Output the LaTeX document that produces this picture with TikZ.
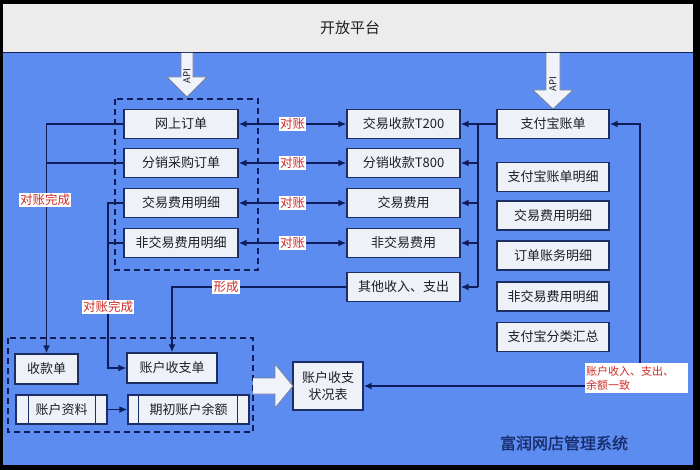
\documentclass[tikz,border=0pt]{standalone}
\usepackage{fontspec}
\setmainfont{Noto Sans CJK SC}[AutoFakeBold=1.5]
\usetikzlibrary{arrows.meta}
\definecolor{bluebg}{RGB}{92,140,240}
\definecolor{graybg}{RGB}{236,236,236}
\definecolor{navy}{RGB}{15,30,90}
\definecolor{boxfill}{RGB}{238,241,248}
\definecolor{boxborder}{RGB}{28,46,100}
\definecolor{redc}{RGB}{205,45,40}
\definecolor{textc}{RGB}{30,30,35}
\definecolor{sysc}{RGB}{25,45,110}
\definecolor{blockfill}{RGB}{240,244,250}
\definecolor{blockdraw}{RGB}{120,130,150}
\tikzset{
  box/.style={draw=boxborder, fill=boxfill, line width=1.3pt, text=textc,
    font=\fontsize{13}{15}\selectfont, inner sep=0pt, minimum height=29pt},
  lbox/.style={box, minimum width=114pt},
  mbox/.style={box, minimum width=113pt},
  rbox/.style={box, minimum width=112pt},
  conn/.style={draw=navy, line width=1.6pt},
  arr/.style={conn, -{Latex[length=8pt,width=7pt]}},
  darr/.style={conn, {Latex[length=8pt,width=7pt]}-{Latex[length=8pt,width=7pt]}},
  lbl/.style={fill=white, text=redc, font=\fontsize{12.5}{12.5}\selectfont, inner sep=1.2pt},
  dbox/.style={draw=navy, line width=1.2pt, dash pattern=on 6pt off 4pt},
  block/.style={fill=blockfill, draw=blockdraw, line width=0.8pt},
  apilbl/.style={rotate=90, font=\fontsize{9.5}{9.5}\selectfont, text=textc, inner sep=0pt},
}
\begin{document}
\begin{tikzpicture}[x=1pt,y=-1pt]
\useasboundingbox (0,0) rectangle (700,470);
\fill[black] (0,0) rectangle (700,470);
\fill[graybg] (3,4) rectangle (693,53);
\fill[bluebg] (3,53) rectangle (693,465);
\draw[navy, line width=1pt] (3,53) -- (693,53);
\node[text=textc, font=\fontsize{15}{15}\selectfont] (title) at (350,28) {开放平台};

% dashed groups
\draw[dbox] (115,99) rectangle (258,270);
\draw[dbox] (8,338) rectangle (253,432);

% API arrows
\draw[block] (181,53) -- (181,77) -- (167,77) -- (187,97) -- (207,77) -- (193,77) -- (193,53);
\node[apilbl] (api1) at (187,76) {API};
\draw[block] (546,53) -- (546,90) -- (533,90) -- (553,109) -- (573,90) -- (560,90) -- (560,53);
\node[apilbl] (api2) at (553,84) {API};

% left column
\node[lbox] (wsdd) at (181,124) {网上订单};
\node[lbox] (fxcg) at (181,163) {分销采购订单};
\node[lbox] (jymx) at (181,203) {交易费用明细};
\node[lbox] (fjmx) at (181,243) {非交易费用明细};

% middle column
\node[mbox] (jysk) at (403.5,124) {交易收款T200};
\node[mbox] (fxsk) at (403.5,163) {分销收款T800};
\node[mbox] (jyfy) at (403.5,203) {交易费用};
\node[mbox] (fjfy) at (403.5,243) {非交易费用};
\node[mbox] (qtsr) at (403.5,287) {其他收入、支出};

% right column
\node[rbox] (zfb) at (553,124) {支付宝账单};
\node[rbox] (zfbmx) at (553,177) {支付宝账单明细};
\node[rbox] (rjymx) at (553,215.5) {交易费用明细};
\node[rbox] (ddmx) at (553,255.5) {订单账务明细};
\node[rbox] (rfjmx) at (553,296.5) {非交易费用明细};
\node[rbox] (flhz) at (553,337) {支付宝分类汇总};

% bottom group
\node[box, minimum width=63pt, minimum height=30pt] (skd) at (46.5,369) {收款单};
\node[box, minimum width=90pt, minimum height=30pt] (zhsz) at (172,368) {账户收支单};
\node[box, minimum width=91pt] (zhzl) at (61.5,409.5) {账户资料};
\node[box, minimum width=121pt] (qczy) at (188.5,409.5) {期初账户余额};
\draw[boxborder, line width=1pt] ([xshift=13pt]zhzl.north west) -- ([xshift=13pt]zhzl.south west);
\draw[boxborder, line width=1pt] ([xshift=-12pt]zhzl.north east) -- ([xshift=-12pt]zhzl.south east);
\draw[boxborder, line width=1pt] ([xshift=11pt]qczy.north west) -- ([xshift=11pt]qczy.south west);
\draw[boxborder, line width=1pt] ([xshift=-12pt]qczy.north east) -- ([xshift=-12pt]qczy.south east);

\node[box, minimum width=70pt, minimum height=48pt, align=center,
  font=\fontsize{13}{17}\selectfont] (zkbg) at (328,386) {账户收支\\状况表};

% big block arrow
\draw[block] (253,378) -- (275,378) -- (275,364) -- (293,386) -- (275,408) -- (275,394) -- (253,394);

% reconciliation arrows
\draw[darr] (wsdd.east) -- node[lbl] (l1) {对账} (jysk.west);
\draw[darr] (fxcg.east) -- node[lbl] (l2) {对账} (fxsk.west);
\draw[darr] (jymx.east) -- node[lbl] (l3) {对账} (jyfy.west);
\draw[darr] (fjmx.east) -- node[lbl] (l4) {对账} (fjfy.west);

% alipay trunk
\coordinate (tr1) at (478,124);
\coordinate (tr2) at (478,287);
\draw[arr] (zfb.west) -- (jysk.east);
\draw[conn] (tr1) -- (tr2);
\draw[arr] (fxsk.east -| tr1) -- (fxsk.east);
\draw[arr] (jyfy.east -| tr1) -- (jyfy.east);
\draw[arr] (fjfy.east -| tr1) -- (fjfy.east);
\draw[arr] (tr2) -- (qtsr.east);

% right loop
\node[fill=white, text=redc, font=\fontsize{11}{14}\selectfont, align=left,
  minimum width=103pt, minimum height=30pt, inner sep=1pt, text width=101pt] (yz) at (636.5,378) {账户收入、支出、\\余额一致};
\coordinate (rc) at (640,124);
\draw[arr] (rc |- yz.north) -- (rc) -- (zfb.east);
\draw[arr] (yz.west |- zkbg.east) -- (zkbg.east);

% left reconciliation complete
\draw[arr] (wsdd.west) -| (skd.north);
\draw[conn] (fxcg.west) -- (fxcg.west -| skd.north);
\node[lbl] (dzwc1) at (45,200) {对账完成};

\coordinate (c2) at (108,203);
\draw[arr] (jymx.west) -- (c2) |- (zhsz.west);
\draw[conn] (fjmx.west) -- (fjmx.west -| c2);
\node[lbl] (dzwc2) at (108,307) {对账完成};

% formation
\draw[arr] (qtsr.west) -| node[lbl, pos=0.345] (xc) {形成} (zhsz.north);

\draw[arr] (zhzl.east) -- (qczy.west);

\node[text=sysc, font=\bfseries\fontsize{16}{16}\selectfont] (sys) at (564,443) {富润网店管理系统};
\end{tikzpicture}
\end{document}
